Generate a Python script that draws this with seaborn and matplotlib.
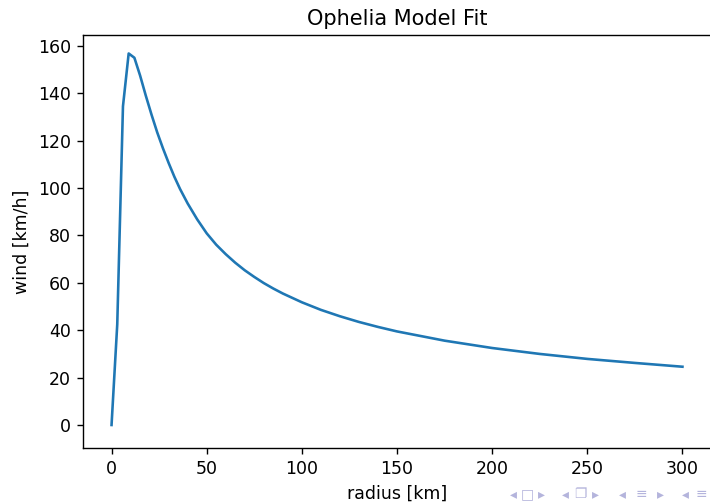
import numpy as np
import pandas as pd
import matplotlib
matplotlib.use("Agg")
import matplotlib.pyplot as plt
import seaborn as sns

# values
radius = [0, 3, 6, 9, 12, 15, 18, 21, 24, 27, 30, 33, 36, 40, 45, 50, 55, 60,
          65, 70, 75, 80, 85, 90, 100, 110, 120, 130, 140, 150, 175, 200, 225,
          250, 275, 300]
wind = [0, 42.5, 134.5, 156.8, 155.0, 147.5, 139.0, 131.0, 123.5, 116.8,
        110.6, 104.8, 99.6, 93.5, 86.8, 80.9, 76.1, 72.1, 68.5, 65.3, 62.5,
        59.9, 57.6, 55.5, 51.8, 48.6, 45.9, 43.5, 41.4, 39.5, 35.6, 32.5,
        30.0, 27.9, 26.2, 24.6]

title = "Ophelia Model Fit"
xlabel = "radius [km]"
ylabel = "wind [km/h]"
nav_glyphs = ["◂", "□", "▸", "◂", "❐", "▸", "◂", "≡", "▸", "◂", "≡"]
nav_x = [513, 527, 541, 565, 580, 595, 622, 641, 660, 685, 701]

df = pd.DataFrame({"radius": radius, "wind": wind})

fig = plt.figure(figsize=(710 / 125, 502 / 125), dpi=125)
ax = fig.add_axes([83 / 710, 1 - 448 / 502, 628 / 710, 413 / 502])

sns.lineplot(data=df, x="radius", y="wind", ax=ax, color="#1f77b4", linewidth=1.5)

ax.set_xlim(-15, 315)
ax.set_ylim(-9.7, 164.6)
ax.set_xticks([0, 50, 100, 150, 200, 250, 300])
ax.set_yticks([0, 20, 40, 60, 80, 100, 120, 140, 160])
ax.set_title(title)
ax.set_xlabel(xlabel)
ax.set_ylabel(ylabel)

# beamer navigation symbols, bottom right
for g, x in zip(nav_glyphs, nav_x):
    fig.text(x / 710, 1 - 494 / 502, g, ha="center", va="center",
             fontsize=8, color="#b4b4dc")

fig.savefig("out.png", dpi=125)
